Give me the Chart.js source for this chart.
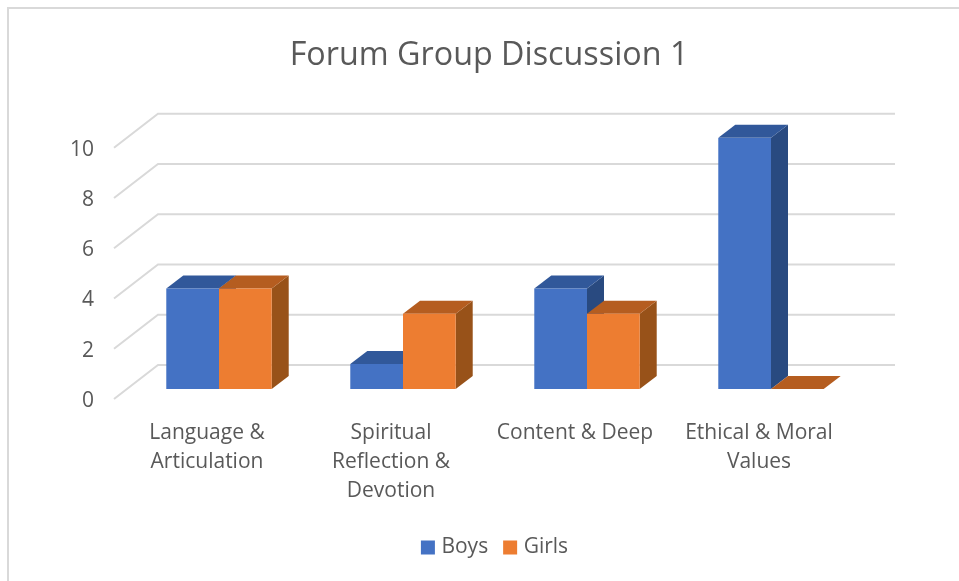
<!DOCTYPE html>
<html>
<head>
<meta charset="utf-8">
<title>Forum Group Discussion 1</title>
<script src="https://cdn.jsdelivr.net/npm/chart.js@4/dist/chart.umd.min.js"></script>
<style>
  html, body { margin: 0; padding: 0; background: #fff; }
  #wrap { position: relative; width: 959px; height: 581px; overflow: hidden; }
  #frame { position: absolute; left: 7px; top: 7px; width: 960px; height: 600px; border: 2px solid #d9d9d9; }
  canvas { position: absolute; left: 0; top: 0; }
</style>
</head>
<body>
<div id="wrap">
  <div id="frame"></div>
  <canvas id="chart" width="959" height="581"></canvas>
</div>
<script>
const categories = [
  ['Language &', 'Articulation'],
  ['Spiritual', 'Reflection &', 'Devotion'],
  'Content & Deep',
  ['Ethical & Moral', 'Values']
];
const boys = [4, 1, 4, 10];
const girls = [4, 3, 3, 0];
const yTicks = [0, 2, 4, 6, 8, 10];

const textColor = '#595959';
const fontFamily = '"Open Sans", "Noto Sans", sans-serif';

// colours of the two shaded faces, one pair per dataset
const shades = [
  { top: '#31589a', side: '#294a80' },
  { top: '#b55d20', side: '#985219' }
];

function poly(ctx, pts, color) {
  ctx.fillStyle = color;
  ctx.beginPath();
  pts.forEach(function(p, i) {
    if (i == 0) ctx.moveTo(p[0], p[1]);
    else ctx.lineTo(p[0], p[1]);
  });
  ctx.closePath();
  ctx.fill();
}

// fake 3D: walls and bar depth, everything taken from the scales and bar elements
const depth3d = {
  id: 'depth3d',
  afterLayout(chart) {
    chart.titleBlock.left -= 6;
    chart.titleBlock.right -= 6;
    chart.legend.left += 1.5;
    chart.legend.right += 1.5;
  },
  beforeDatasetsDraw(chart) {
    const ctx = chart.ctx;
    const y = chart.scales.y;
    const area = chart.chartArea;
    ctx.save();
    ctx.strokeStyle = '#d9d9d9';
    ctx.lineWidth = 2;
    y.ticks.forEach(function(t) {
      const py = y.getPixelForValue(t.value);
      ctx.beginPath();
      ctx.moveTo(area.left - 13, py + 10);
      ctx.lineTo(area.left + 31, py - 24);
      ctx.lineTo(area.right + 32, py - 24);
      ctx.stroke();
    });
    const dx = 17, dy = -13;
    chart.data.datasets.forEach(function(ds, i) {
      chart.getDatasetMeta(i).data.forEach(function(bar) {
        const l = bar.x - bar.width / 2, r = bar.x + bar.width / 2;
        poly(ctx, [[r, bar.y], [r + dx, bar.y + dy], [r + dx, bar.base + dy], [r, bar.base]], shades[i].side);
        poly(ctx, [[l, bar.y], [l + dx, bar.y + dy], [r + dx, bar.y + dy], [r, bar.y]], shades[i].top);
      });
    });
    ctx.restore();
  }
};

new Chart(document.getElementById('chart'), {
  type: 'bar',
  data: {
    labels: categories,
    datasets: [
      { label: 'Boys', data: boys, backgroundColor: '#4472c4', borderWidth: 0 },
      { label: 'Girls', data: girls, backgroundColor: '#ed7d31', borderWidth: 0 }
    ]
  },
  options: {
    responsive: false,
    animation: false,
    devicePixelRatio: 1,
    layout: { padding: { left: 0, right: 96, top: 36, bottom: 13 } },
    datasets: { bar: { categoryPercentage: 0.573, barPercentage: 1 } },
    plugins: {
      title: {
        display: true,
        text: 'Forum Group Discussion 1',
        fullSize: false,
        color: textColor,
        font: { family: fontFamily, size: 32.3, weight: 'normal' },
        padding: { top: 0, bottom: 63 }
      },
      legend: {
        position: 'bottom',
        fullSize: false,
        labels: {
          color: textColor,
          font: { family: fontFamily, size: 21 },
          // small box with a thick border keeps the text close to the swatch
          boxWidth: 6,
          boxHeight: 6,
          padding: 19,
          generateLabels(chart) {
            const items = Chart.defaults.plugins.legend.labels.generateLabels(chart);
            items.forEach(function(item) {
              item.lineWidth = 8;
              item.strokeStyle = item.fillStyle;
            });
            return items;
          }
        }
      },
      tooltip: { enabled: false }
    },
    scales: {
      x: {
        grid: { display: false },
        border: { display: false },
        afterFit(scale) { scale.height = 129; },
        ticks: {
          color: textColor,
          font: { family: fontFamily, size: 21, lineHeight: 1.37 },
          labelOffset: -12,
          padding: 22,
          maxRotation: 0,
          autoSkip: false
        }
      },
      y: {
        min: 0,
        max: 10,
        afterBuildTicks(scale) {
          scale.ticks = yTicks.map(function(v) { return { value: v }; });
        },
        afterFit(scale) { scale.width = 127; },
        grid: { display: false },
        border: { display: false },
        ticks: {
          color: textColor,
          font: { family: fontFamily, size: 21 },
          labelOffset: 12,
          padding: 25
        }
      }
    }
  },
  plugins: [depth3d]
});
</script>
</body>
</html>
